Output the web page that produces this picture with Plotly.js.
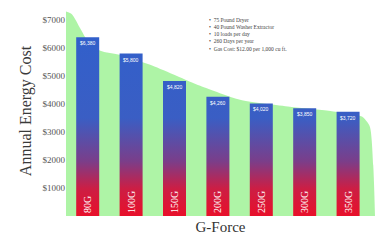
<!DOCTYPE html>
<html><head><meta charset="utf-8">
<script src="https://cdn.plot.ly/plotly-3.0.1.min.js"></script>
<style>html,body{margin:0;padding:0;background:#fff;}#chart{width:375px;height:244px;}</style>
</head><body><div id="chart"></div>
<script>
const categories = ['80G','100G','150G','200G','250G','300G','350G'];
const costs = [6380, 5800, 4820, 4260, 4020, 3850, 3720];
const costLabels = ['$6,380','$5,800','$4,820','$4,260','$4,020','$3,850','$3,720'];
const tickValues = [1000,2000,3000,4000,5000,6000,7000];
const tickLabels = ['$1000','$2000','$3000','$4000','$5000','$6000','$7000'];
const trendX = [-0.5,-0.36,-0.17,0,0.29,0.75,1.44,2.59,3.51,4.66,5.59,6.32,6.5,6.58,6.62];
const trendY = [7300,7200,6700,6250,5900,5750,5400,4650,4150,3900,3750,3550,3200,1800,0];
const notes = ['75 Pound Dryer','40 Pound Washer Extractor','10 loads per day','260 Days per year','Gas Cost: $12.00 per 1,000 cu ft.'];

const serif = 'Liberation Serif, Times New Roman, serif';
const idx = categories.map((c,i)=>i);
const xRange = [-0.5,6.62], yRange = [0,7500];

const traces = [
  {type:'scatter', x:trendX, y:trendY, mode:'lines', line:{width:0, shape:'spline', smoothing:0.6},
   fill:'tozeroy', fillcolor:'rgba(160,242,150,0.85)', hoverinfo:'skip', showlegend:false},
  {type:'bar', x:idx, y:costs, xaxis:'x2', yaxis:'y2', width:0.53, marker:{color:'#3a5fc8', line:{width:0}},
   text:categories, textposition:'inside', insidetextanchor:'start', textangle:-90,
   textfont:{family:serif, size:10, color:'#ffffff'}, constraintext:'none', showlegend:false}
];

const annotations = costLabels.map((t,i)=>({x:i, y:costs[i], xref:'x2', yref:'y2', text:t, showarrow:false,
  yanchor:'top', yshift:-1, font:{family:'Liberation Sans, Arial, sans-serif', size:5, color:'#ffffff'}}));
annotations.push({xref:'paper', yref:'paper', x:0.455, y:0.955, xanchor:'left', yanchor:'top', align:'left',
  showarrow:false, text: notes.map(n=>'•  '+n).join('<br>'), font:{family:serif, size:5.5, color:'#444'}});

const hidden = {showticklabels:false, ticks:'', showgrid:false, zeroline:false, showline:false};
const layout = {
  width:375, height:244, margin:{l:66, r:0, t:6, b:28},
  paper_bgcolor:'#ffffff', plot_bgcolor:'#ffffff',
  xaxis:Object.assign({range:xRange, title:{text:'G-Force', font:{family:serif, size:15, color:'#333'}, standoff:5}}, hidden),
  yaxis:{range:yRange, tickvals:tickValues, ticktext:tickLabels, showgrid:false, zeroline:false, showline:false,
    ticks:'', tickfont:{family:serif, size:9, color:'#555'},
    title:{text:'Annual Energy Cost', font:{family:serif, size:16, color:'#3a3a3a'}, standoff:6}},
  xaxis2:Object.assign({range:xRange, overlaying:'x'}, hidden),
  yaxis2:Object.assign({range:yRange, overlaying:'y'}, hidden),
  annotations: annotations,
  showlegend:false
};

Plotly.newPlot('chart', traces, layout, {displayModeBar:false, staticPlot:true}).then(gd=>{
  const ya = gd._fullLayout.yaxis2;
  const svg = gd.querySelector('svg.main-svg');
  const NS = 'http://www.w3.org/2000/svg';
  const defs = document.createElementNS(NS,'defs');
  const grad = document.createElementNS(NS,'linearGradient');
  grad.setAttribute('id','barGrad');
  grad.setAttribute('gradientUnits','userSpaceOnUse');
  grad.setAttribute('x1','0'); grad.setAttribute('x2','0');
  grad.setAttribute('y1', ya.l2p(7000)); grad.setAttribute('y2', ya.l2p(0));
  const stops = [[0,'#3060cc'],[0.5,'#3a5ec4'],[0.72,'#7a3e8a'],[0.86,'#cc1e44'],[1,'#e8102a']];
  stops.forEach(s=>{const st=document.createElementNS(NS,'stop'); st.setAttribute('offset',s[0]); st.setAttribute('stop-color',s[1]); grad.appendChild(st);});
  defs.appendChild(grad);
  svg.insertBefore(defs, svg.firstChild);
  gd.querySelectorAll('.barlayer .point path').forEach(p=>{p.style.fill='url(#barGrad)';});
});
</script></body></html>
